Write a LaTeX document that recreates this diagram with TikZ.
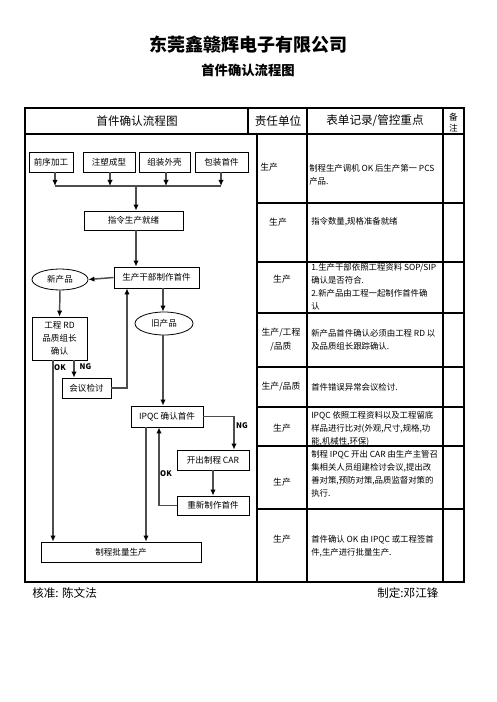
\documentclass[tikz,border=0pt]{standalone}
\usepackage{fontspec}
\setmainfont{Noto Sans CJK SC}
\usetikzlibrary{arrows.meta,shapes.geometric}
\definecolor{connc}{HTML}{4D4D4D}
\begin{document}
\begin{tikzpicture}[x=0.75pt,y=-0.75pt,
 fbox/.style={draw,line width=0.6pt,inner sep=0pt,font=\fontsize{6.4}{9.75}\selectfont,align=center},
 oval/.style={ellipse,draw,line width=0.6pt,inner sep=0pt,font=\fontsize{6.4}{8}\selectfont},
 conn/.style={draw=connc,line width=1.1pt,-{Latex[length=4.5pt,width=4pt,color=black]}},
 plain/.style={draw=connc,line width=1.1pt},
 grid/.style={line width=0.8pt},
 cell/.style={inner sep=0pt,font=\fontsize{6.3}{9.8}\selectfont,align=left,anchor=west},
 unit/.style={inner sep=0pt,font=\fontsize{6.6}{10.5}\selectfont,align=center},
 lab/.style={inner sep=0pt,font=\fontsize{5.8}{7}\selectfont\bfseries}
]
\useasboundingbox (0,0) rectangle (496,702);

% titles
\node[inner sep=0pt,font=\fontsize{13.5}{16}\selectfont\bfseries] (title) at (248,45) {东莞鑫赣辉电子有限公司};
\node[inner sep=0pt,font=\fontsize{10}{12}\selectfont\bfseries] (subtitle) at (248,70) {首件确认流程图};

% table grid
\draw[grid] (25,108) rectangle (464,582);
\draw[grid] (25,134) -- (464,134);
\draw[grid] (248,108) -- (248,134);
\draw[grid] (257,134) -- (257,582);
\draw[grid] (307,108) -- (307,582);
\draw[grid] (443,108) -- (443,582);
\foreach \yy in {203,262,313,367,407,446,509} \draw[grid] (257,\yy) -- (464,\yy);

% header
\node[inner sep=0pt,font=\fontsize{8.7}{10}\selectfont] (h1) at (137,121) {首件确认流程图};
\node[inner sep=0pt,font=\fontsize{8.7}{10}\selectfont] (h2) at (278,121) {责任单位};
\node[inner sep=0pt,font=\fontsize{8.7}{10}\selectfont] (h3) at (375,121) {表单记录/管控重点};
\node[inner sep=0pt,font=\fontsize{6.5}{8.25}\selectfont,align=center] (h4) at (453.5,122.5) {备\\注};

% responsible units
\node[unit,anchor=west] (u1) at (260,167) {生产};
\node[unit] (u2) at (278,222) {生产};
\node[unit] (u3) at (282,279) {生产};
\node[unit] (u4) at (281,340) {生产/工程\\/品质};
\node[unit] (u5) at (281,387) {生产/品质};
\node[unit] (u6) at (282,428) {生产};
\node[unit] (u7) at (282,482) {生产};
\node[unit] (u8) at (282,539) {生产};

% records / control points
\node[cell] (r1) at (309,174.5) {制程生产调机 OK 后生产第一 PCS\\产品.};
\node[cell] (r2) at (311,222) {指令数量,规格准备就绪};
\node[cell] (r3) at (311,286.5) {1.生产干部依照工程资料 SOP/SIP\\确认是否符合.\\2.新产品由工程一起制作首件确\\认};
\node[cell] (r4) at (311,340) {新产品首件确认必须由工程 RD 以\\及品质组长跟踪确认.};
\node[cell] (r5) at (311,387) {首件错误异常会议检讨.};
\node[cell] (r6) at (311,428.5) {IPQC 依照工程资料以及工程留底\\样品进行比对(外观,尺寸,规格,功\\能,机械性,环保)};
\node[cell] (r7) at (311,474) {制程 IPQC 开出 CAR 由生产主管召\\集相关人员组建检讨会议,提出改\\善对策,预防对策,品质监督对策的\\执行.};
\node[cell] (r8) at (311,546.5) {首件确认 OK 由 IPQC 或工程签首\\件,生产进行批量生产.};

% flowchart nodes
\node[fbox,minimum width=33pt,minimum height=15pt] (pre) at (51,162) {前序加工};
\node[fbox,minimum width=39pt,minimum height=15pt] (inj) at (109,162) {注塑成型};
\node[fbox,minimum width=38.25pt,minimum height=15pt] (asm) at (164.5,162) {组装外壳};
\node[fbox,minimum width=39.75pt,minimum height=15pt] (pkg) at (221.5,162) {包装首件};
\node[fbox,minimum width=74.25pt,minimum height=14.25pt] (ord) at (133.5,220.5) {指令生产就绪};
\node[fbox,minimum width=63.75pt,minimum height=15.75pt] (mk) at (156.5,277.5) {生产干部制作首件};
\node[oval,minimum width=42pt,minimum height=15.75pt] (newp) at (60,279.5) {新产品};
\node[fbox,minimum width=41.25pt,minimum height=32.25pt] (eng) at (59.5,338.5) {工程 RD\\品质组长\\确认};
\node[oval,minimum width=43.5pt,minimum height=17.25pt] (oldp) at (164,323.5) {旧产品};
\node[fbox,minimum width=36.75pt,minimum height=15pt] (mtg) at (86.5,388) {会议检讨};
\node[fbox,minimum width=54pt,minimum height=15.75pt] (ipqc) at (167,416.5) {IPQC 确认首件};
\node[fbox,minimum width=54pt,minimum height=15pt] (car) at (213,460) {开出制程 CAR};
\node[fbox,minimum width=54pt,minimum height=14.25pt] (redo) at (213,505.5) {重新制作首件};
\node[fbox,minimum width=120pt,minimum height=15pt] (mass) at (121,552) {制程批量生产};

% helper coordinates
\coordinate (jl) at (55,186);
\coordinate (jr) at (221,186);
\coordinate (j) at (136,186);
\coordinate (okx) at (53,0);
\coordinate (ngx) at (74,0);
\coordinate (fbx) at (127,0);
\coordinate (ngx2) at (234,0);
\coordinate (okx2) at (159,0);
\coordinate (mx) at (146,0);
\coordinate (ox) at (163,0);

% connectors
\draw[conn] (pre.south -| jl) -- (jl);
\draw[conn] (inj.south -| 110,0) -- (110,186);
\draw[conn] (asm.south -| 166,0) -- (166,186);
\draw[conn] (pkg.south -| jr) -- (jr);
\draw[plain] (jl) -- (jr);
\draw[conn] (j) -- (j |- ord.north);
\draw[conn] (ord.south -| j) -- (j |- mk.north);
\draw[conn] (mk.west) -- (newp.east);
\draw[conn] (newp.south) -- (eng.north);
\draw[conn] (mk.south -| ox) -- (ox |- oldp.north);
\draw[conn] (oldp.south -| ox) -- (ox |- ipqc.north);
\draw[conn] (eng.south -| okx) -- (okx |- mass.north);
\draw[conn] (eng.south -| ngx) -- (ngx |- mtg.north);
\draw[conn] (mtg.east) -- (mtg.east -| fbx) -- (fbx |- mk.south);
\draw[conn] (ipqc.east) -- (ipqc.east -| ngx2) -- (ngx2 |- car.north);
\draw[conn] (car.south) -- (redo.north);
\draw[conn] (redo.west) -- (redo.west -| okx2) -- (okx2 |- ipqc.south);
\draw[conn] (ipqc.south -| mx) -- (mx |- mass.north);

% labels
\node[lab] (lok1) at (60,368) {OK};
\node[lab] (lng1) at (85.5,367) {NG};
\node[lab] (lok2) at (166,474) {OK};
\node[lab] (lng2) at (242,426) {NG};

% footer
\node[inner sep=0pt,anchor=west,font=\fontsize{8.7}{10}\selectfont] (f1) at (32,593) {核准: 陈文法};
\node[inner sep=0pt,anchor=west,font=\fontsize{8.7}{10}\selectfont] (f2) at (377,593) {制定:邓江锋};
\end{tikzpicture}
\end{document}
